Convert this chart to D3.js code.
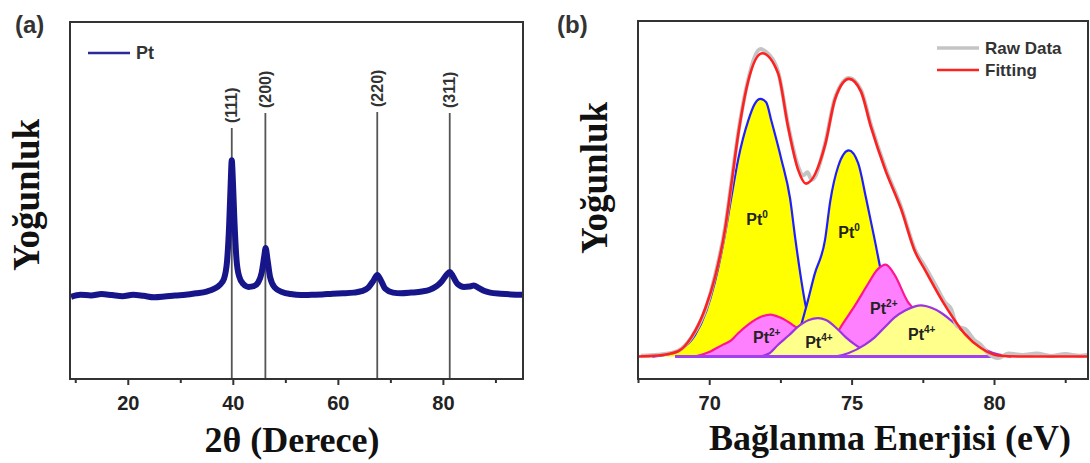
<!DOCTYPE html>
<html>
<head>
<meta charset="utf-8">
<script src="https://cdn.jsdelivr.net/npm/d3@7"></script>
<style>
  body { margin: 0; background: #fff; }
  svg { display: block; }
</style>
</head>
<body>
<div id="chart"></div>
<script>
// ---- data: (a) XRD pattern ----
const xrdTheta = [9.2, 11, 13, 15, 17, 19, 21, 23, 25, 27, 29, 31, 33, 35, 36.5, 37.5, 38.3, 38.9, 39.3, 39.6, 39.8, 40.0, 40.3, 40.7, 41.2, 42, 43, 44, 44.8, 45.5, 46.0, 46.25, 46.6, 47.1, 48, 49.5, 51, 53, 55, 57, 59, 61, 63, 64.5, 65.8, 66.8, 67.5, 68.2, 69, 70.5, 72, 74, 76, 77.5, 78.8, 79.8, 80.7, 81.3, 81.9, 82.8, 84, 85, 85.9, 86.7, 87.8, 89, 91, 93, 95.2];
const xrdIntensity = [23.0, 23.6, 23.4, 23.8, 23.5, 23.2, 23.6, 23.3, 22.9, 23.1, 23.4, 23.6, 24.0, 24.5, 25.3, 26.3, 28.0, 33, 43, 55, 61.3, 56, 44.5, 33.5, 28.8, 26.6, 25.8, 26.0, 27.0, 29.8, 34.5, 36.7, 33.5, 28.5, 25.6, 24.3, 23.8, 23.5, 23.6, 23.7, 23.9, 24.0, 24.2, 24.6, 25.6, 27.6, 29.1, 27.6, 25.3, 24.2, 24.0, 24.2, 24.5, 25.0, 26.0, 27.4, 29.2, 30.0, 28.8, 26.6, 25.8, 25.9, 26.2, 25.6, 24.7, 24.2, 23.9, 23.7, 23.6];
const peakTheta = [39.8, 46.2, 67.5, 81.3];
const peakLabels = ["(111)", "(200)", "(220)", "(311)"];
const peakLineTop = [70.3, 74.5, 74.8, 74.5];
const xrdMajorTicks = [20, 40, 60, 80];
const xrdMinorTicks = [10, 30, 50, 70, 90];

// ---- data: (b) XPS Pt 4f ----
const rawData = [[67.6, 0.3], [68.2, 0.6], [68.9, 1.9], [69.4, 6.6], [69.9, 16.3], [70.2, 26.5], [70.56, 42.5], [70.77, 56.5], [71.02, 73.5], [71.37, 91], [71.8, 101], [72.0, 100], [72.42, 93.5], [72.77, 76], [73.12, 62.5], [73.3, 59.5], [73.45, 60.5], [73.6, 58], [74.07, 70], [74.42, 85], [74.91, 91.5], [75.33, 87.5], [75.68, 76], [76.18, 62], [76.74, 49], [77.23, 35], [77.58, 29.5], [78.0, 22.5], [78.28, 17.8], [78.5, 15.5], [78.7, 10], [79.0, 9.0], [79.3, 5.5], [79.54, 3.8], [79.8, 1.0], [80.14, -0.5], [80.5, 1.0], [81.0, 0.5], [81.5, 1.0], [82.0, 0.2], [82.5, 0.8], [83.0, 0.3], [83.3, 0.5]];
const fitting = [[67.5, 0], [68.21, 0.35], [68.91, 1.75], [69.37, 6.3], [69.86, 15.8], [70.21, 26.3], [70.56, 42], [70.77, 56], [71.02, 73], [71.37, 90.5], [71.86, 99.6], [72.42, 93.0], [72.77, 75.4], [73.12, 61.4], [73.40, 56.8], [74.07, 69.5], [74.42, 84.6], [74.91, 91.2], [75.33, 87.0], [75.68, 75.4], [76.18, 61.4], [76.74, 48.4], [77.23, 34.4], [77.58, 28.4], [78.28, 16.8], [78.98, 7.4], [79.54, 2.8], [80.14, 0.35], [81, 0], [83.3, 0]];
const pt0a = [[68.0, 0], [68.5, 0.6], [69.0, 2.2], [69.5, 7], [69.9, 15], [70.2, 24.5], [70.53, 38.9], [70.77, 51.9], [71.02, 64.9], [71.37, 77.5], [71.6, 83], [71.8, 84.6], [72.0, 83.5], [72.18, 77.5], [72.53, 64.9], [72.84, 51.9], [73.02, 38.9], [73.4, 16.1], [73.8, 5.5], [74.2, 1.5], [74.6, 0.3], [75.0, 0]];
const pt0b = [[72.6, 0], [73.0, 4], [73.4, 16.1], [73.7, 27], [74.07, 38.5], [74.25, 51], [74.53, 62.5], [74.9, 67.7], [75.23, 63.5], [75.51, 51.9], [75.82, 37.9], [76.1, 25], [76.5, 12], [77.0, 3.5], [77.5, 0.6], [78.0, 0]];
const pt2a = [[69.5, 0], [70.0, 1.5], [70.5, 4], [70.77, 5.3], [71.0, 7.5], [71.37, 10.5], [71.8, 13], [72.15, 13.8], [72.5, 12.8], [73.02, 9.8], [73.37, 7.4], [73.8, 4], [74.3, 1.5], [74.8, 0.3], [75.2, 0]];
const pt4a = [[71.8, 0], [72.1, 1], [72.42, 3.9], [72.8, 7], [73.12, 9.8], [73.5, 12], [73.82, 12.6], [74.1, 12], [74.53, 8.8], [74.8, 6.3], [75.12, 3.9], [75.4, 2.2], [75.8, 0.8], [76.2, 0]];
const pt2b = [[73.6, 0], [74.0, 2.5], [74.4, 6.5], [74.7, 10.9], [75.12, 16.8], [75.58, 23.9], [75.9, 28.5], [76.2, 30.2], [76.5, 27], [76.98, 17.9], [77.16, 15.8], [77.5, 9.5], [78.0, 3.5], [78.5, 1], [79.0, 0]];
const pt4b = [[74.4, 0], [74.88, 1.1], [75.47, 3.9], [75.8, 6.2], [76.18, 9.8], [76.5, 12.8], [76.88, 15.1], [77.2, 16.4], [77.44, 16.8], [77.8, 16], [78.14, 14.4], [78.5, 11.8], [78.84, 8.8], [79.14, 6.2], [79.44, 3.9], [79.8, 1.8], [80.14, 0.7], [80.6, 0]];
const baselineRange = [68.8, 80.3];
const xpsMajorTicks = [70, 75, 80];
const xpsMinorTicks = [67.5, 72.5, 77.5, 82.5];

const W = 1090, H = 463;
const svg = d3.select('#chart').append('svg')
  .attr('width', W)
  .attr('height', H);

const sansBold = "'Liberation Sans', Arial, sans-serif";
const serifBold = "'Liberation Serif', 'Times New Roman', serif";

//panel frames
const frameA = { left: 70, right: 523, top: 22, bottom: 379 };
const frameB = { left: 638, right: 1088, top: 21, bottom: 379 };

//scales
const xA = d3.scaleLinear().domain([9, 95.25]).range([frameA.left, frameA.right]);
const yA = d3.scaleLinear().domain([0, 100]).range([frameA.bottom, frameA.top]);
const xB = d3.scaleLinear().domain([67.5, 83.3]).range([frameB.left, frameB.right]);
const yB = d3.scaleLinear().domain([-7.37, 110.2]).range([frameB.bottom, frameB.top]);

//axis helper: major + minor ticks, frame drawn separately
function drawAxis(g, x, frame, major, minor) {
  g.append('g')
    .attr('transform', `translate(0,${frame.bottom})`)
    .call(d3.axisBottom(x).tickValues(minor).tickSize(4).tickFormat(''))
    .call(a => a.select('.domain').remove())
    .call(a => a.selectAll('line').attr('stroke', '#333').attr('stroke-width', 2));
  g.append('g')
    .attr('transform', `translate(0,${frame.bottom})`)
    .call(d3.axisBottom(x).tickValues(major).tickSize(6).tickPadding(11).tickFormat(d3.format('d')))
    .call(a => a.select('.domain').remove())
    .call(a => a.selectAll('line').attr('stroke', '#333').attr('stroke-width', 2))
    .call(a => a.selectAll('text')
      .attr('fill', '#222')
      .style('font-family', sansBold)
      .style('font-weight', 'bold')
      .style('font-size', '20px'));
  g.append('rect')
    .attr('x', frame.left).attr('y', frame.top)
    .attr('width', frame.right - frame.left)
    .attr('height', frame.bottom - frame.top)
    .attr('fill', 'none')
    .attr('stroke', '#333')
    .attr('stroke-width', 2);
}

// ================= panel (a) =================
const gA = svg.append('g').attr('id', 'panelA');

//reference lines for the Pt planes
gA.selectAll('line.peak')
  .data(peakTheta)
  .join('line')
  .attr('class', 'peak')
  .attr('x1', d => xA(d)).attr('x2', d => xA(d))
  .attr('y1', (d, i) => yA(peakLineTop[i]))
  .attr('y2', frameA.bottom)
  .attr('stroke', '#555')
  .attr('stroke-width', 1.8);

gA.selectAll('text.peakLabel')
  .data(peakLabels)
  .join('text')
  .attr('class', 'peakLabel')
  .attr('transform', (d, i) => `translate(${xA(peakTheta[i])},${yA(peakLineTop[i]) - 5}) rotate(-90)`)
  .attr('dominant-baseline', 'central')
  .style('font-family', sansBold)
  .style('font-weight', 'bold')
  .style('font-size', '16px')
  .attr('fill', '#333')
  .text(d => d);

//XRD pattern (thick stroke stands in for the noise band)
const xrdPoints = xrdTheta.map((t, i) => [t, xrdIntensity[i]]);
gA.append('path')
  .datum(xrdPoints)
  .attr('fill', 'none')
  .attr('stroke', '#16168a')
  .attr('stroke-width', 6)
  .attr('stroke-linejoin', 'round')
  .attr('d', d3.line().x(d => xA(d[0])).y(d => yA(d[1])).curve(d3.curveMonotoneX));

drawAxis(gA, xA, frameA, xrdMajorTicks, xrdMinorTicks);

//legend (a)
gA.append('line')
  .attr('x1', 88).attr('x2', 130).attr('y1', 53).attr('y2', 53)
  .attr('stroke', '#2a2a9a').attr('stroke-width', 2.5);
gA.append('text')
  .attr('x', 136).attr('y', 59)
  .style('font-family', sansBold).style('font-weight', 'bold').style('font-size', '18px')
  .attr('fill', '#333')
  .text('Pt');

//titles (a)
gA.append('text')
  .attr('x', 15).attr('y', 33)
  .style('font-family', sansBold).style('font-weight', 'bold').style('font-size', '24px')
  .attr('fill', '#333')
  .text('(a)');
gA.append('text')
  .attr('transform', 'translate(39,195) rotate(-90)')
  .attr('text-anchor', 'middle')
  .style('font-family', serifBold).style('font-weight', 'bold').style('font-size', '37px')
  .attr('fill', '#111')
  .text('Yoğunluk');
gA.append('text')
  .attr('x', 292).attr('y', 452)
  .attr('text-anchor', 'middle')
  .style('font-family', serifBold).style('font-weight', 'bold').style('font-size', '36px')
  .attr('fill', '#111')
  .text('2θ (Derece)');

// ================= panel (b) =================
const gB = svg.append('g').attr('id', 'panelB');

const areaB = d3.area().x(d => xB(d[0])).y0(yB(0)).y1(d => yB(d[1])).curve(d3.curveMonotoneX);
const lineB = d3.line().x(d => xB(d[0])).y(d => yB(d[1])).curve(d3.curveMonotoneX);

//components: fill colour + outline colour, drawn in this order
const components = [
  { data: pt0a, fill: '#ffff00', stroke: '#1f1fff' },
  { data: pt0b, fill: '#ffff00', stroke: '#1f1fff' },
  { data: pt2a, fill: '#ff80ff', stroke: '#ff1493' },
  { data: pt2b, fill: '#ff80ff', stroke: '#ff1493' },
  { data: pt4a, fill: '#ffff8c', stroke: '#9a32e6' },
  { data: pt4b, fill: '#ffff8c', stroke: '#9a32e6' }
];

components.forEach(c => {
  gB.append('path').datum(c.data).attr('fill', c.fill).attr('d', areaB);
  gB.append('path').datum(c.data)
    .attr('fill', 'none').attr('stroke', c.stroke).attr('stroke-width', 2.2)
    .attr('d', lineB);
});

gB.append('line')
  .attr('x1', xB(baselineRange[0])).attr('x2', xB(baselineRange[1]))
  .attr('y1', yB(0)).attr('y2', yB(0))
  .attr('stroke', '#a040f0').attr('stroke-width', 3);

gB.append('path').datum(rawData)
  .attr('fill', 'none').attr('stroke', '#c4c4c4').attr('stroke-width', 4)
  .attr('d', lineB);
gB.append('path').datum(fitting)
  .attr('fill', 'none').attr('stroke', '#ff2020').attr('stroke-width', 2.6)
  .attr('d', lineB);

//component labels
const compLabels = [
  { e: 71.30, v: 43.2, sup: '0' },
  { e: 74.53, v: 39.0, sup: '0' },
  { e: 71.54, v: 4.6, sup: '2+' },
  { e: 73.37, v: 2.8, sup: '4+' },
  { e: 75.65, v: 14.0, sup: '2+' },
  { e: 76.98, v: 5.3, sup: '4+' }
];
const lbl = gB.selectAll('text.comp')
  .data(compLabels)
  .join('text')
  .attr('class', 'comp')
  .attr('x', d => xB(d.e))
  .attr('y', d => yB(d.v))
  .style('font-family', sansBold).style('font-weight', 'bold').style('font-size', '16px')
  .attr('fill', '#222');
lbl.append('tspan').text('Pt');
lbl.append('tspan').attr('dy', -7).style('font-size', '10px').text(d => d.sup);

drawAxis(gB, xB, frameB, xpsMajorTicks, xpsMinorTicks);

//legend (b)
const legendB = [
  { name: 'Raw Data', color: '#c4c4c4', width: 3.5 },
  { name: 'Fitting', color: '#ff2020', width: 2.6 }
];
const lg = gB.selectAll('g.leg')
  .data(legendB)
  .join('g')
  .attr('class', 'leg')
  .attr('transform', (d, i) => `translate(937,${48 + i * 22})`);
lg.append('line')
  .attr('x1', 0).attr('x2', 42)
  .attr('stroke', d => d.color).attr('stroke-width', d => d.width);
lg.append('text')
  .attr('x', 48).attr('y', 6)
  .style('font-family', sansBold).style('font-weight', 'bold').style('font-size', '17px')
  .attr('fill', '#333')
  .text(d => d.name);

//titles (b)
gB.append('text')
  .attr('x', 557).attr('y', 33)
  .style('font-family', sansBold).style('font-weight', 'bold').style('font-size', '24px')
  .attr('fill', '#333')
  .text('(b)');
gB.append('text')
  .attr('transform', 'translate(607,178) rotate(-90)')
  .attr('text-anchor', 'middle')
  .style('font-family', serifBold).style('font-weight', 'bold').style('font-size', '37px')
  .attr('fill', '#111')
  .text('Yoğunluk');
gB.append('text')
  .attr('x', 890).attr('y', 450)
  .attr('text-anchor', 'middle')
  .style('font-family', serifBold).style('font-weight', 'bold').style('font-size', '36px')
  .attr('fill', '#111')
  .text('Bağlanma Enerjisi (eV)');
</script>
</body>
</html>
